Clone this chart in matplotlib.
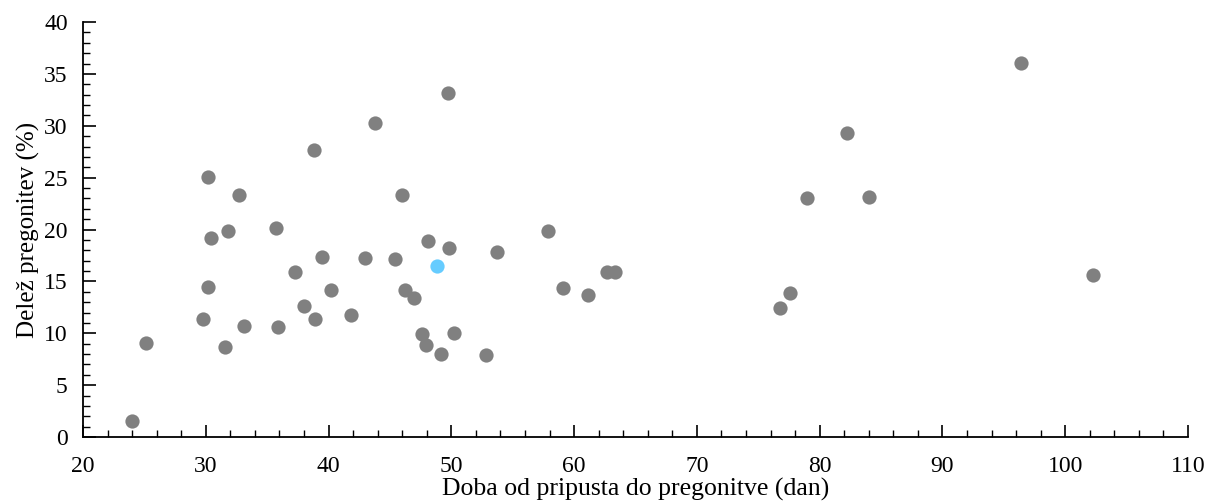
import matplotlib as mpl
mpl.use('Agg')

import matplotlib.pyplot as plt
import matplotlib.ticker as mticker

# Doba od pripusta do pregonitve (dan) / Delež pregonitev (%)
days = [24.0, 25.1, 29.8, 30.2, 30.2, 30.4, 31.6, 31.8, 32.7, 33.1,
        35.7, 35.9, 37.3, 38.0, 38.8, 38.9, 39.5, 40.2, 41.8, 43.0,
        43.8, 45.4, 46.0, 46.2, 47.0, 47.6, 47.9, 48.1, 49.2, 49.7,
        49.8, 50.2, 52.8, 53.7, 57.9, 59.1, 61.1, 62.7, 63.3, 76.8,
        77.6, 79.0, 82.2, 84.0, 96.4, 102.3]
share = [1.5, 9.1, 11.4, 14.5, 25.1, 19.2, 8.7, 19.9, 23.3, 10.7,
         20.1, 10.6, 15.9, 12.6, 27.7, 11.4, 17.4, 14.2, 11.8, 17.3,
         30.3, 17.2, 23.3, 14.2, 13.4, 9.9, 8.9, 18.9, 8.0, 33.2,
         18.2, 10.0, 7.9, 17.8, 19.9, 14.4, 13.7, 15.9, 15.9, 12.4,
         13.9, 23.0, 29.3, 23.1, 36.1, 15.6]

# highlighted point (average)
avg_days = [48.8]
avg_share = [16.5]

plt.rcParams['font.family'] = ['Liberation Serif', 'DejaVu Serif']

fig = plt.figure(figsize=(12.13, 5.01), dpi=100)
ax = fig.add_axes([0.0684, 0.1277, 0.9110, 0.8283])

ax.scatter(days, share, s=105, color='#808080', linewidths=0, zorder=3)
ax.scatter(avg_days, avg_share, s=105, color='#66CCFF', linewidths=0, zorder=4)

ax.set_xlim(20, 110)
ax.set_ylim(0, 40)
ax.xaxis.set_major_locator(mticker.MultipleLocator(10))
ax.xaxis.set_minor_locator(mticker.MultipleLocator(2))
ax.yaxis.set_major_locator(mticker.MultipleLocator(5))
ax.yaxis.set_minor_locator(mticker.MultipleLocator(1))

ax.spines['top'].set_visible(False)
ax.spines['right'].set_visible(False)
for sp in ['left', 'bottom']:
    ax.spines[sp].set_linewidth(1.3)

ax.tick_params(which='major', direction='in', length=9, width=1.2, labelsize=17)
ax.tick_params(axis='x', which='major', pad=14)
ax.tick_params(axis='y', which='major', pad=11)
ax.tick_params(which='minor', direction='in', length=5, width=1.0)

ax.set_xlabel('Doba od pripusta do pregonitve (dan)', fontsize=18.5, va='baseline')
ax.xaxis.set_label_coords(0.5, -0.140)
ax.set_ylabel('Delež pregonitev (%)', fontsize=18, labelpad=3)

plt.savefig('out.png', dpi=100)
